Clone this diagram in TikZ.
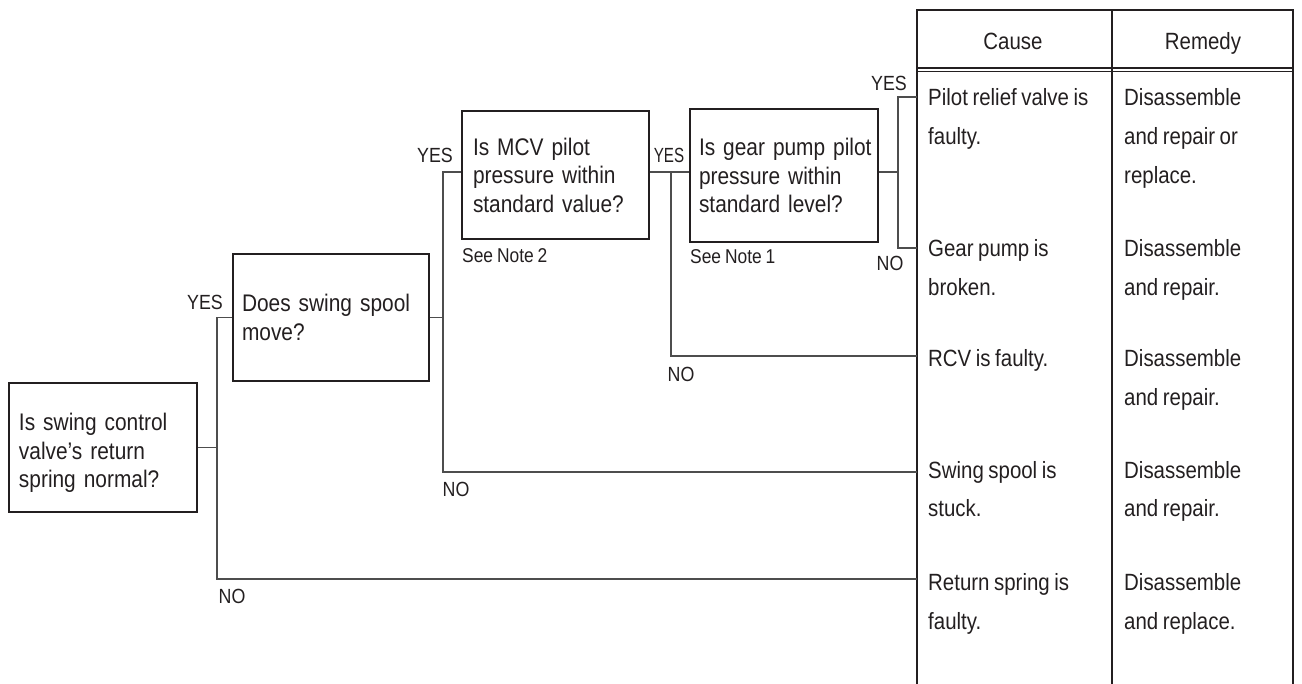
\documentclass[tikz,border=0pt]{standalone}
\usepackage{fontspec}
\setmainfont[FakeStretch=0.87,WordSpace=0.8]{Liberation Sans}
\hyphenpenalty=10000
\exhyphenpenalty=10000
\hbadness=10000
\hfuzz=20pt
\definecolor{ink}{HTML}{231F20}
\definecolor{wire}{HTML}{4D4D4D}
\begin{document}
\begin{tikzpicture}[x=1pt,y=-1pt,
  box/.style={draw=ink,line width=1.6pt,align=left,inner xsep=9pt,inner ysep=0pt,
    font=\fontsize{24}{28.5}\selectfont,text=ink,anchor=center},
  conn/.style={draw=wire,line width=1.2pt},
  lbl/.style={font=\fontsize{20.5}{22}\selectfont,inner sep=0pt,text=ink},
  cell/.style={font=\fontsize{23.5}{39}\selectfont,align=left,anchor=base west,inner sep=0pt,text=ink},
  head/.style={font=\fontsize{23.5}{28}\selectfont,anchor=base,inner sep=0pt,text=ink},
  note/.style={font=\fontsize{20}{22}\selectfont,anchor=base west,inner sep=0pt,text=ink},
  tbl/.style={draw=ink,line width=1.8pt},
  tblthin/.style={draw=ink,line width=1.2pt}]
\useasboundingbox (0,0) rectangle (1302,684);

% table frame
\draw[tbl] (917,684) -- (917,10) -- (1293,10) -- (1293,684);
\draw[tblthin] (1112,10) -- (1112,684);
\draw[tblthin] (917,68) -- (1293,68);
\draw[tblthin] (917,71.5) -- (1293,71.5);

% headers
\node[head] (hcause) at (1013,50) {Cause};
\node[head] (hrem) at (1203,50) {Remedy};

% question boxes
\node[box,text width=168pt,inner xsep=10pt,minimum height=129pt] (q1) at (103,447.5) {\rule{0pt}{28pt}\mbox{Is swing control}\\\mbox{valve's return}\\\mbox{spring normal?}};
\node[box,text width=178pt,minimum height=127pt] (q2) at (331,317.5) {\mbox{Does swing spool}\\move?};
\node[box,text width=165pt,inner xsep=11pt,minimum height=128pt] (q3) at (555.5,175) {\mbox{Is MCV pilot}\\\mbox{pressure within}\\\mbox{standard value?}};
\node[box,text width=170pt,minimum height=133pt] (q4) at (784,175.5) {\mbox{Is gear pump pilot}\\\mbox{pressure within}\\\mbox{standard level?}};

\node[note] (n2) at (462,263) {See Note 2};
\node[note] (n1) at (690,264) {See Note 1};

% table cells (base anchor = baseline of the last line)
\node[cell] (ca1) at (928,145) {Pilot relief valve is\\faulty.};
\node[cell] (re1) at (1124,184) {Disassemble\\and repair or\\replace.};
\node[cell] (ca2) at (928,296) {Gear pump is\\broken.};
\node[cell] (re2) at (1124,296) {Disassemble\\and repair.};
\node[cell] (ca3) at (928,367) {RCV is faulty.};
\node[cell] (re3) at (1124,406) {Disassemble\\and repair.};
\node[cell] (ca4) at (928,517) {Swing spool is\\stuck.};
\node[cell] (re4) at (1124,517) {Disassemble\\and repair.};
\node[cell] (ca5) at (928,629) {Return spring is\\faulty.};
\node[cell] (re5) at (1124,629) {Disassemble\\and replace.};

% connection points
\coordinate (c1) at (917,97);
\coordinate (c2) at (917,248);
\coordinate (c3) at (917,356);
\coordinate (c4) at (917,472);
\coordinate (c5) at (917,579);
\coordinate (j1) at (217,0);
\coordinate (j2) at (443,0);
\coordinate (j3) at (671,0);
\coordinate (j4) at (898,0);
\coordinate (r3) at (0,172);

% connectors
\draw[conn] (q1.east) -- (j1 |- q1.east);
\draw[conn] (q2.west) -| (j1 |- c5) -- (c5);
\draw[conn] (q2.east) -- (j2 |- q2.east);
\draw[conn] (q3.west |- r3) -| (j2 |- c4) -- (c4);
\draw[conn] (q3.east |- r3) -- (q4.west |- r3);
\draw[conn] (j3 |- r3) |- (c3);
\draw[conn] (q4.east |- r3) -- (j4 |- r3);
\draw[conn] (c1) -| (j4 |- c2) -- (c2);

% labels
\node[lbl] (y1) at (205,302) {YES};
\node[lbl] (no1) at (232,596) {NO};
\node[lbl] (y2) at (435,155) {YES};
\node[lbl] (no2) at (456,489) {NO};
\node[lbl,xscale=0.85] (y3) at (669,155) {YES};
\node[lbl] (no3) at (681,374) {NO};
\node[lbl] (y4) at (889,83) {YES};
\node[lbl] (no4) at (890,263) {NO};
\end{tikzpicture}
\end{document}
